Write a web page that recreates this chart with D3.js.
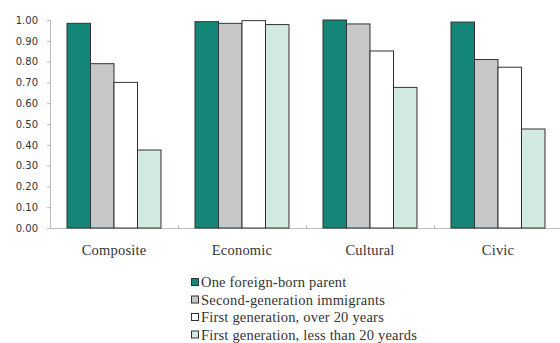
<!DOCTYPE html>
<html>
<head>
<meta charset="utf-8">
<script src="https://cdn.jsdelivr.net/npm/d3@7"></script>
<style>
  body { margin: 0; background: #fff; }
  svg { display: block; }
</style>
</head>
<body>
<script>
// Datos
const categories = ["Composite", "Economic", "Cultural", "Civic"];
const seriesNames = [
  "One foreign-born parent",
  "Second-generation immigrants",
  "First generation, over 20 years",
  "First generation, less than 20 yeards"
];
const oneParent = [0.984, 0.992, 1.00, 0.99];
const secondGen = [0.79, 0.984, 0.981, 0.81];
const firstOver20 = [0.70, 0.997, 0.851, 0.773];
const firstUnder20 = [0.375, 0.978, 0.676, 0.476];
const yTicks = [0, 0.1, 0.2, 0.3, 0.4, 0.5, 0.6, 0.7, 0.8, 0.9, 1.0];

const seriesValues = [oneParent, secondGen, firstOver20, firstUnder20];
const colors = ["#138677", "#c6c7c9", "#ffffff", "#d2eae0"];

const width = 560, height = 343;
const margin = { top: 20, right: -2, bottom: 115, left: 50 };
const innerW = width - margin.left - margin.right;
const innerH = height - margin.top - margin.bottom;

const serif = "Liberation Serif, Times New Roman, serif";

const svg = d3.select("body").append("svg")
    .attr("width", width)
    .attr("height", height);

const g = svg.append("g")
    .attr("transform", "translate(" + margin.left + "," + margin.top + ")");

// Escalas
const x = d3.scaleBand()
    .domain(categories)
    .range([0, innerW])
    .padding(0);

const x1 = d3.scaleBand()
    .domain(d3.range(seriesNames.length))
    .range([17, x.bandwidth() - 17])
    .padding(0);

const y = d3.scaleLinear()
    .domain([0, 1])
    .range([innerH, 0]);

// Eje Y
const yAxis = g.append("g")
    .call(d3.axisLeft(y).tickValues(yTicks).tickFormat(d3.format(".2f")).tickSize(3).tickPadding(9));
yAxis.select(".domain").attr("stroke", "#bbb");
yAxis.selectAll(".tick line").attr("stroke", "#bbb");
yAxis.selectAll("text")
    .attr("font-family", "DejaVu Sans, Verdana, sans-serif")
    .attr("font-size", "10px")
    .attr("fill", "#333");

// Eje X
const xAxis = g.append("g")
    .attr("transform", "translate(0," + innerH + ")")
    .call(d3.axisBottom(x).tickSize(0).tickPadding(17));
xAxis.select(".domain").attr("stroke", "#bbb");
xAxis.selectAll("text")
    .attr("font-family", serif)
    .attr("font-size", "14.5px")
    .attr("letter-spacing", "0.2px")
    .attr("fill", "#333");

// Marcas entre categorías
g.append("g").selectAll("line")
    .data(categories.slice(1))
    .enter().append("line")
    .attr("x1", d => x(d) + 0.5)
    .attr("x2", d => x(d) + 0.5)
    .attr("y1", innerH)
    .attr("y2", innerH - 3)
    .attr("stroke", "#bbb");

// Barras
const groups = g.selectAll(".cat")
    .data(categories)
    .enter().append("g")
    .attr("class", "cat")
    .attr("transform", d => "translate(" + x(d) + ",0)");

groups.selectAll("rect")
    .data((d, i) => seriesValues.map((s, j) => ({ j: j, v: s[i] })))
    .enter().append("rect")
    .attr("x", d => x1(d.j))
    .attr("y", d => y(d.v))
    .attr("width", x1.bandwidth())
    .attr("height", d => innerH - y(d.v))
    .attr("fill", d => colors[d.j])
    .attr("stroke", "#333")
    .attr("stroke-width", 1);

// Leyenda
const legend = svg.append("g")
    .attr("transform", "translate(191,282)");

const items = legend.selectAll("g")
    .data(seriesNames)
    .enter().append("g")
    .attr("transform", (d, i) => "translate(0," + (i * 17.5) + ")");

items.append("rect")
    .attr("x", 0.5)
    .attr("y", -3.5)
    .attr("width", 7)
    .attr("height", 7)
    .attr("fill", (d, i) => colors[i])
    .attr("stroke", "#333");

items.append("text")
    .attr("x", 10)
    .attr("y", 0)
    .attr("dy", "0.35em")
    .attr("font-family", serif)
    .attr("font-size", "14.5px")
    .attr("letter-spacing", "0.2px")
    .attr("fill", "#333")
    .text(d => d);
</script>
</body>
</html>
